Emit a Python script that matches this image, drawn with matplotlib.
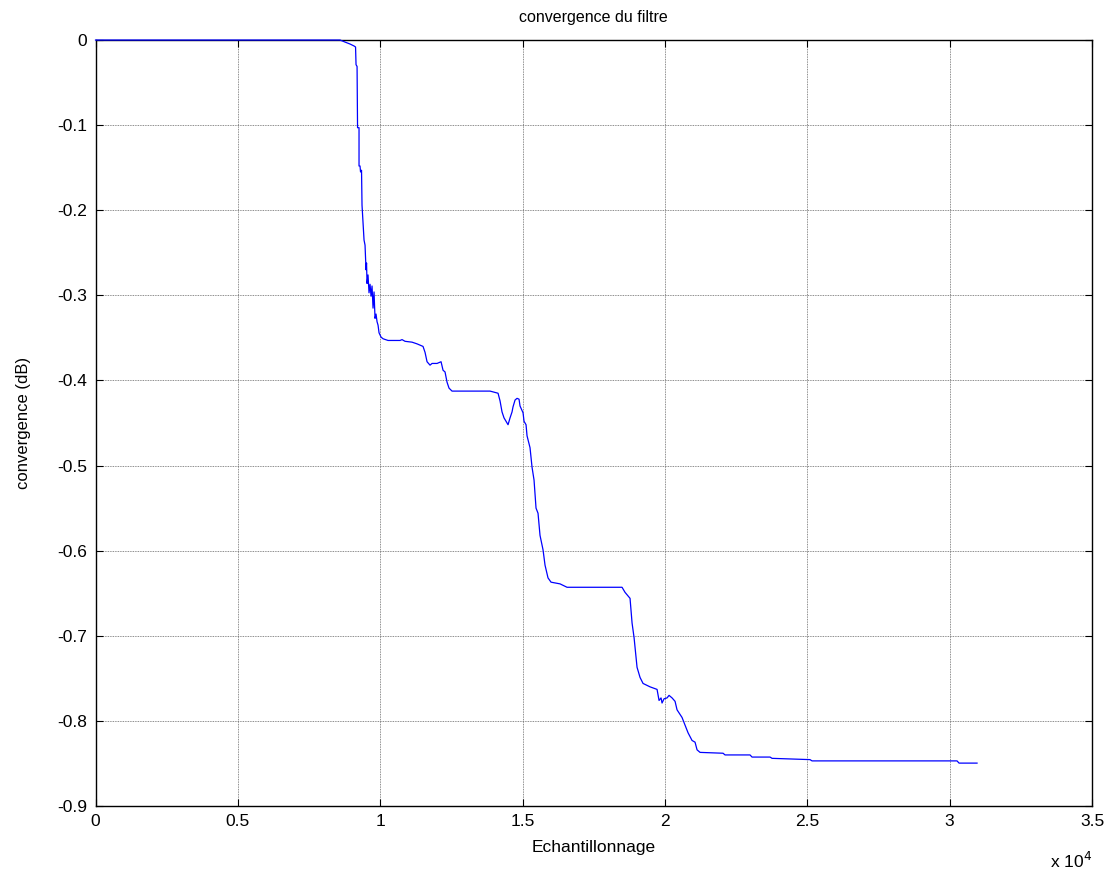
import matplotlib
matplotlib.use("Agg")
import matplotlib.pyplot as plt
from matplotlib.ticker import FuncFormatter, MultipleLocator

plt.rcParams["font.family"] = ["Liberation Sans", "DejaVu Sans"]
plt.rcParams["axes.unicode_minus"] = False

# Convergence curve of the adaptive filter (sample index, level in dB)
samples = [0, 8590, 8764, 8939, 9080, 9133, 9150, 9186, 9203, 9255, 9255, 9290,
           9308, 9343, 9360, 9431, 9466, 9501, 9519, 9536, 9571, 9606, 9642, 9677,
           9712, 9747, 9782, 9817, 9852, 9888, 9923, 9958, 10028, 10099, 10274,
           10696, 10766, 10871, 11117, 11293, 11503, 11574, 11644, 11749, 11820,
           11995, 12136, 12206, 12276, 12346, 12416, 12522, 13857, 14138, 14208,
           14278, 14348, 14454, 14489, 14559, 14629, 14664, 14735, 14805, 14875,
           14910, 15016, 15051, 15121, 15156, 15261, 15332, 15402, 15472, 15542,
           15612, 15718, 15788, 15893, 15999, 16315, 16561, 18493, 18599, 18774,
           18845, 18915, 19020, 19126, 19231, 19477, 19723, 19793, 19863, 19898,
           19969, 20074, 20144, 20250, 20355, 20425, 20601, 20706, 20812, 20952,
           21057, 21128, 21233, 22041, 22111, 22989, 23059, 23691, 23762, 25096,
           25166, 30260, 30330, 30962]
level_db = [0, 0, -0.0024, -0.0047, -0.007, -0.0082, -0.029, -0.031, -0.103,
            -0.103, -0.148, -0.148, -0.155, -0.153, -0.194, -0.235, -0.241,
            -0.270, -0.262, -0.286, -0.276, -0.297, -0.287, -0.301, -0.289,
            -0.315, -0.296, -0.327, -0.322, -0.331, -0.335, -0.344, -0.349,
            -0.351, -0.353, -0.353, -0.352, -0.354, -0.355, -0.357, -0.360,
            -0.367, -0.378, -0.382, -0.380, -0.380, -0.378, -0.388, -0.390,
            -0.402, -0.409, -0.4125, -0.4125, -0.415, -0.424, -0.437, -0.444,
            -0.450, -0.452, -0.444, -0.437, -0.431, -0.423, -0.421, -0.422,
            -0.430, -0.438, -0.448, -0.452, -0.465, -0.479, -0.502, -0.517,
            -0.550, -0.556, -0.582, -0.599, -0.617, -0.632, -0.637, -0.639,
            -0.643, -0.643, -0.649, -0.656, -0.685, -0.702, -0.737, -0.749,
            -0.756, -0.760, -0.763, -0.776, -0.773, -0.779, -0.774, -0.773,
            -0.770, -0.773, -0.777, -0.787, -0.796, -0.805, -0.814, -0.823,
            -0.825, -0.834, -0.837, -0.838, -0.840, -0.840, -0.8425, -0.8425,
            -0.844, -0.8455, -0.847, -0.847, -0.8496, -0.8496]

title_text = "convergence du filtre"
xlabel_text = "Echantillonnage"
ylabel_text = "convergence (dB)"

fig = plt.figure(figsize=(11.16, 8.74), dpi=100)
ax = fig.add_axes([0.0856, 0.0778, 0.8929, 0.8764])

ax.plot(samples, level_db, color="#0000ff", linewidth=0.9,
        clip_on=False, zorder=5)

ax.set_xlim(0, 35000)
ax.set_ylim(-0.9, 0)
ax.xaxis.set_major_locator(MultipleLocator(5000))
ax.yaxis.set_major_locator(MultipleLocator(0.1))
ax.xaxis.set_major_formatter(FuncFormatter(lambda v, p: f"{v / 1e4:g}"))
ax.yaxis.set_major_formatter(FuncFormatter(lambda v, p: f"{round(v, 1):g}" if abs(v) > 1e-9 else "0"))

ax.grid(True, linestyle=(0, (1, 1)), color="#666666", linewidth=0.6)
ax.tick_params(direction="in", length=5, width=0.8, top=True, right=True,
               labelsize=12.5, pad=6, colors="black")
for s in ax.spines.values():
    s.set_linewidth(1.0)

ax.set_title(title_text, fontsize=11.5, pad=13)
ax.set_xlabel(xlabel_text, fontsize=12.5, labelpad=8)
ax.set_ylabel(ylabel_text, fontsize=12, labelpad=19)

ax.text(1.0, -0.058, r"x 10$^{4}$", transform=ax.transAxes, ha="right",
        va="top", fontsize=12.5)

fig.savefig("out.png", dpi=100)
